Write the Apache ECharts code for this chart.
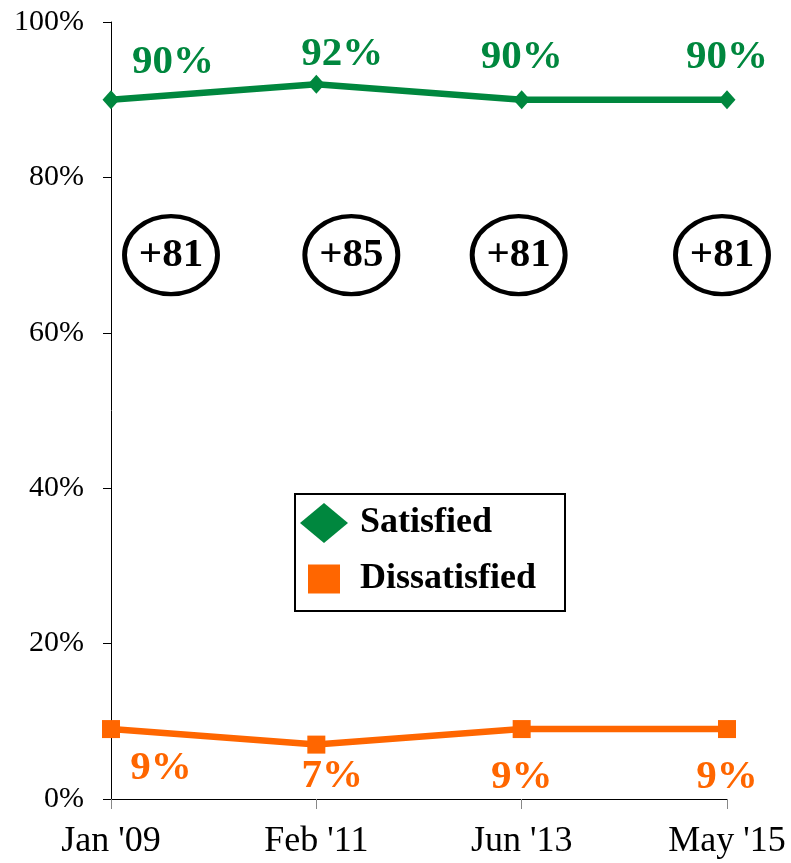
<!DOCTYPE html>
<html>
<head>
<meta charset="utf-8">
<script src="https://cdn.jsdelivr.net/npm/echarts@6/dist/echarts.min.js"></script>
<style>
html,body{margin:0;padding:0;background:#fff;}
#chart{width:791px;height:863px;}
</style>
</head>
<body>
<div id="chart"></div>
<script>
// ---- data ----
const categories = ["Jan '09", "Feb '11", "Jun '13", "May '15"];
const satisfied = [90, 92, 90, 90];
const dissatisfied = [9, 7, 9, 9];
const yTicks = [0, 20, 40, 60, 80, 100];
const netLevel = 70; // vertical placement of the net-score ellipses (in % units)

// ---- style / layout ----
const GREEN = '#00873E';
const ORANGE = '#FF6600';
const SERIF = '"Liberation Serif", "Times New Roman", Times, serif';
const greenLabelOffsets = [[62, -37], [26, -30], [0, -42], [0, -42]];
const orangeLabelOffsets = [[50, 39], [16, 32], [0, 48], [0, 48]];
const netOffsets = [60, 35, -3, -5];

const net = satisfied.map((s, i) => s - dissatisfied[i]);

function labeled(values, offsets, symW, symH) {
  return values.map((v, i) => ({
    value: v,
    label: {
      position: [symW / 2 + offsets[i][0], symH / 2 + offsets[i][1]],
      align: 'center',
      verticalAlign: 'middle'
    }
  }));
}

const chart = echarts.init(document.getElementById('chart'), null, {renderer: 'canvas'});
chart.setOption({
  animation: false,
  backgroundColor: '#fff',
  grid: {left: 111, right: 64, top: 22, bottom: 64, containLabel: false},
  xAxis: {
    type: 'category',
    data: categories,
    boundaryGap: false,
    axisLine: {lineStyle: {color: '#000', width: 1}},
    axisTick: {show: true, length: 10, alignWithLabel: true, lineStyle: {color: '#888'}},
    axisLabel: {color: '#000', fontFamily: SERIF, fontSize: 36, margin: 25}
  },
  yAxis: {
    type: 'value',
    min: yTicks[0],
    max: yTicks[yTicks.length - 1],
    interval: yTicks[1] - yTicks[0],
    splitLine: {show: false},
    axisLine: {show: true, lineStyle: {color: '#000', width: 1}},
    axisTick: {show: true, length: 8, lineStyle: {color: '#000'}},
    axisLabel: {color: '#000', fontFamily: SERIF, fontSize: 30, margin: 27, formatter: '{value}%'}
  },
  legend: [
    {
      data: [{name: 'Satisfied', icon: 'diamond'}],
      left: 300, top: 503, padding: 0,
      itemWidth: 48, itemHeight: 40,
      selectedMode: false,
      textStyle: {fontFamily: SERIF, fontSize: 36, fontWeight: 'bold', color: '#000', padding: [0, 0, 0, 7]}
    },
    {
      data: [{name: 'Dissatisfied', icon: 'rect'}],
      left: 308, top: 561, padding: 0,
      itemWidth: 32, itemHeight: 29,
      selectedMode: false,
      textStyle: {fontFamily: SERIF, fontSize: 36, fontWeight: 'bold', color: '#000', padding: [0, 0, 0, 15]}
    }
  ],
  graphic: [{
    type: 'rect', left: 294, top: 493, z: 3,
    shape: {width: 270, height: 117},
    style: {fill: '#fff', stroke: '#000', lineWidth: 2}
  }],
  series: [
    {
      name: 'Satisfied',
      type: 'line',
      data: labeled(satisfied, greenLabelOffsets, 17, 19),
      symbol: 'diamond',
      symbolSize: [17, 19],
      lineStyle: {color: GREEN, width: 6.5},
      itemStyle: {color: GREEN},
      label: {show: true, formatter: '{c}%', color: GREEN, fontFamily: SERIF, fontSize: 41, fontWeight: 'bold'},
      z: 5
    },
    {
      name: 'Dissatisfied',
      type: 'line',
      data: labeled(dissatisfied, orangeLabelOffsets, 18, 18),
      symbol: 'rect',
      symbolSize: [18, 18],
      lineStyle: {color: ORANGE, width: 6.5},
      itemStyle: {color: ORANGE},
      label: {show: true, formatter: '{c}%', color: ORANGE, fontFamily: SERIF, fontSize: 41, fontWeight: 'bold'},
      z: 5
    },
    {
      name: 'Net',
      type: 'scatter',
      data: net.map((n, i) => ({value: [categories[i], netLevel], symbolOffset: [netOffsets[i], 0]})),
      symbol: 'circle',
      symbolSize: [93, 78],
      itemStyle: {color: '#fff', borderColor: '#000', borderWidth: 4.5, opacity: 1},
      label: {
        show: true, position: 'inside',
        formatter: p => '+' + net[p.dataIndex],
        color: '#000', fontFamily: SERIF, fontSize: 41, fontWeight: 'bold'
      },
      emphasis: {disabled: true},
      z: 4
    }
  ]
});
</script>
</body>
</html>
